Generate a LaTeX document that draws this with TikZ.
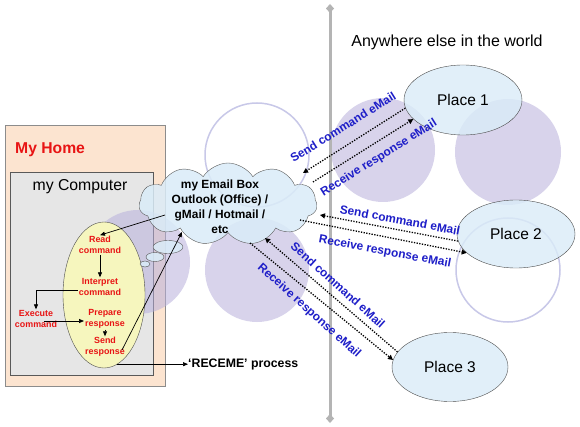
\documentclass[tikz,border=0pt]{standalone}
\usepackage{fontspec}
\setmainfont{Liberation Sans}
\usetikzlibrary{shapes.symbols,shapes.geometric,arrows.meta,calc}
\definecolor{peach}{RGB}{252,228,208}
\definecolor{boxgray}{RGB}{230,230,230}
\definecolor{yel}{RGB}{246,246,190}
\definecolor{skyfill}{RGB}{218,236,248}
\definecolor{lav}{RGB}{184,176,220}
\definecolor{lavline}{RGB}{200,200,232}
\definecolor{vline}{RGB}{180,180,180}
\definecolor{hred}{RGB}{232,20,20}
\definecolor{lblue}{RGB}{30,30,200}
\tikzset{
  redtxt/.style={text=hred, font=\bfseries\fontsize{8.9}{10.7}\selectfont, align=center, inner sep=1pt},
  lbl/.style={text=lblue, font=\bfseries\fontsize{11.9}{12}\selectfont, inner sep=0pt},
  place/.style={ellipse, draw=black!70, fill=skyfill, fill opacity=0.8, text opacity=1, font=\fontsize{15.5}{16}\selectfont},
  arr/.style={draw=black, line width=0.7pt, -{Triangle[length=5pt,width=4pt]}},
  dotarr/.style={draw=black, line width=1.3pt, dash pattern=on 1.3pt off 1.4pt, -{Triangle[length=5pt,width=5pt]}},
  lavdisc/.style={fill=lav, fill opacity=0.55},
  lavring/.style={draw=lavline, line width=1.5pt},
}
\begin{document}
\begin{tikzpicture}[x=1pt,y=-1pt]
\useasboundingbox[fill=white] (0,0) rectangle (580,427);
% boxes
\node[draw=black!45, fill=peach, minimum width=160pt, minimum height=261pt, inner sep=0pt] (home) at (85,255.5) {};
\node[draw=black!65, fill=boxgray, minimum width=143pt, minimum height=203pt, inner sep=0pt] (comp) at (81.5,273.5) {};
% decorative circles
\fill[lavdisc] (383,150) circle[radius=52pt];
\fill[lavdisc] (508,152) circle[radius=53pt];
\fill[lavdisc] (257,270) circle[radius=52pt];
\fill[lavdisc] (138,262) circle[radius=52pt];
\draw[lavring] (257,155) circle[radius=52pt];
\draw[lavring] (508,270) circle[radius=52pt];
% vertical divider
\draw[vline, line width=3pt, {Diamond[width=8pt,length=9pt]}-{Diamond[width=8pt,length=9pt]}] (330,4) -- (330,423);
% yellow process ellipse
\node[ellipse, draw=black!70, fill=yel, minimum width=82pt, minimum height=146pt, inner sep=0pt] (yel) at (104,295) {};
% places
\node[place, minimum width=118pt, minimum height=70pt] (p1) at (463,100) {Place 1};
\node[place, minimum width=118pt, minimum height=68pt] (p2) at (516,234) {Place 2};
\node[place, minimum width=116pt, minimum height=69pt] (p3) at (450,367) {Place 3};
% cloud
\node[cloud, draw=black!65, fill=skyfill, fill opacity=0.85, cloud puffs=11, cloud puff arc=115, aspect=2.2, minimum width=178pt, minimum height=82pt, inner sep=0pt] (cloud) at (228,204) {};
\draw[draw=black!65, fill=skyfill, fill opacity=0.85] (168,247) ellipse [x radius=15pt, y radius=6.5pt];
\draw[draw=black!65, fill=skyfill, fill opacity=0.85] (155,257) ellipse [x radius=9pt, y radius=4.5pt];
\draw[draw=black!65, fill=skyfill, fill opacity=0.85] (145,264) ellipse [x radius=5pt, y radius=3pt];
\node[font=\bfseries\fontsize{11.9}{15}\selectfont, align=center, inner sep=0pt] (ctext) at (220,207) {my Email Box\\Outlook (Office) /\\gMail / Hotmail /\\etc};
% texts
\node[anchor=west, text=hred, font=\bfseries\fontsize{15.7}{16}\selectfont, inner sep=0pt] (hometitle) at (15,150) {My Home};
\node[font=\fontsize{15.8}{16}\selectfont, inner sep=0pt] (comptitle) at (80,187) {my Computer};
\node[font=\fontsize{16}{17}\selectfont, inner sep=0pt] (world) at (447,42) {Anywhere else in the world};
\node[anchor=west, font=\bfseries\fontsize{12.3}{13}\selectfont, inner sep=0pt] (receme) at (188,364) {‘RECEME’ process};
% process steps
\node[redtxt] (read) at (100,245) {Read\\command};
\node[redtxt] (interp) at (100,287) {Interpret\\command};
\node[redtxt] (exec) at (36,319) {Execute\\command};
\node[redtxt] (prep) at (105,319) {Prepare\\response};
\node[redtxt] (send) at (105,347) {Send\\response};
% cloud connection points
\coordinate (cs1) at ($(cloud.center)+(75,-31)$);
\coordinate (cr1) at ($(cloud.center)+(85,-22)$);
\coordinate (cs2) at ($(cloud.center)+(92,11)$);
\coordinate (cr2) at ($(cloud.center)+(72,16)$);
\coordinate (cs3) at ($(cloud.center)+(37,34)$);
\coordinate (cr3) at ($(cloud.center)+(22,39)$);
\coordinate (cin) at ($(cloud.center)+(-46,28)$);
\coordinate (cout) at ($(cloud.center)+(-63,11)$);
% process arrows
\draw[arr] (cout) -- (read.north);
\draw[arr] (read.south) -- (interp.north);
\draw[arr] ([yshift=-3pt]interp.west) -| (exec.north);
\draw[arr] ([xshift=-14pt,yshift=-2pt]exec.east) -- ([yshift=-2pt]prep.west);
\draw[arr] (prep.south) -- (send.north);
\draw[arr] ([xshift=-4pt,yshift=-3pt]send.east) -- (cin);
\draw[arr] (yel.281) -- (yel.281 -| receme.west);
% email arrows
\draw[dotarr] (p1.188) -- (cs1);
\draw[dotarr] (cr1) -- (p1.201);
\draw[dotarr] (p2.187) -- (cs2);
\draw[dotarr] (cr2) -- (p2.201);
\draw[dotarr] (p3.164) -- (cs3);
\draw[dotarr] (cr3) -- (p3.173);
% email labels
\node[lbl, rotate=32] (l1) at (343,127) {Send command eMail};
\node[lbl, rotate=32] (l2) at (379,158) {Receive response eMail};
\node[lbl, rotate=-10.5] (l3) at (400,220) {Send command eMail};
\node[lbl, rotate=-10.5] (l4) at (385,252) {Receive response eMail};
\node[lbl, rotate=-42] (l5) at (338,285) {Send command eMail};
\node[lbl, rotate=-42] (l6) at (309,311) {Receive response eMail};
\end{tikzpicture}
\end{document}
